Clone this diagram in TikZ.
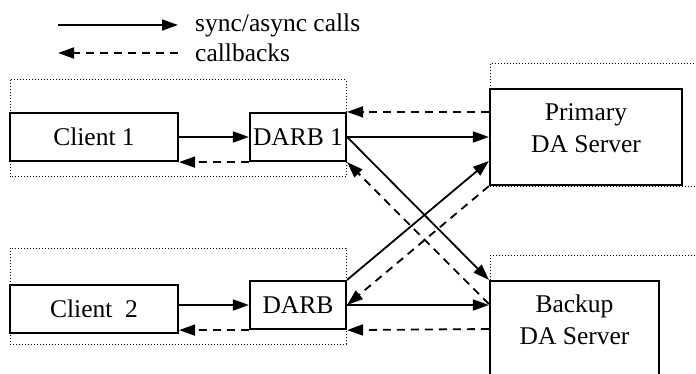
\documentclass[tikz,border=0pt]{standalone}
\usepackage{fontspec}
\setmainfont{Liberation Serif}
\usetikzlibrary{arrows.meta}

\tikzset{
  box/.style={draw, line width=2.2pt, inner sep=0pt, align=center},
  server/.style={box, minimum height=96pt},
  group/.style={line width=1pt, dash pattern=on 1pt off 2pt},
  call/.style={line width=1.8pt, -{Triangle[length=16pt,width=11pt]}},
  back/.style={call, dash pattern=on 8pt off 6pt},
}

\begin{document}
\begin{tikzpicture}[x=1pt, y=-1pt, font=\fontsize{25.5}{32}\selectfont]
    \useasboundingbox (0,0) rectangle (696,374);

    % legend
    \node[anchor=west, inner sep=0pt] (callkey) at (195,25) {sync/async calls};
    \node[anchor=west, inner sep=0pt] (backkey) at (195,53) {callbacks};
    \coordinate (callfrom) at (58,25);
    \coordinate (backto) at (58,53);
    \draw[call] (callfrom) -- ([xshift=-17pt]callkey.west);
    \draw[back] ([xshift=-17pt]backkey.west) -- (backto);

    % dotted groups
    \draw[group] (10,80) rectangle (346,177);
    \draw[group] (10,248) rectangle (346,344);
    \draw[group] (490,64) rectangle (700,187);
    \draw[group] (490,255) rectangle (700,380);

    % boxes
    \node[box, minimum width=168pt, minimum height=48pt] (client1) at (94,137) {Client 1};
    \node[box, minimum width=96pt, minimum height=48pt] (darb1) at (298,137) {DARB 1};
    \node[box, minimum width=168pt, minimum height=48pt] (client2) at (94,309) {Client\ \ 2};
    \node[box, minimum width=96pt, minimum height=48pt] (darb2) at (298,305) {DARB};
    \node[server, minimum width=192pt,
          label={[align=center, yshift=9pt]center:Primary\\DA Server}] (primary) at (586,137) {};
    \node[server, minimum width=169pt,
          label={[align=center, yshift=9pt]center:Backup\\DA Server}] (backup) at (574.5,329) {};

    % client 1 side
    \draw[call] (client1.east) -- (darb1.west);
    \draw[back] (darb1.south west) -- (darb1.south west -| client1.east);
    \draw[back] (darb1.north east -| primary.west) -- (darb1.north east);
    \draw[call] (darb1.east) -- (primary.west);
    \draw[call] (darb1.east) -- (backup.north west);
    \draw[back] ([yshift=25pt]backup.west) -- (darb1.south east);

    % client 2 side
    \draw[call] (darb2.north east) -- ([yshift=-24pt]primary.west);
    \draw[back] (primary.south west) -- (darb2.east);
    \draw[call] (darb2.west -| client2.east) -- (darb2.west);
    \draw[back] (darb2.south west) -- (darb2.south west -| client2.east);
    \draw[call] (darb2.east) -- (darb2.east -| backup.west);
    \draw[back] (backup.west) -- (darb2.south east);
\end{tikzpicture}
\end{document}
